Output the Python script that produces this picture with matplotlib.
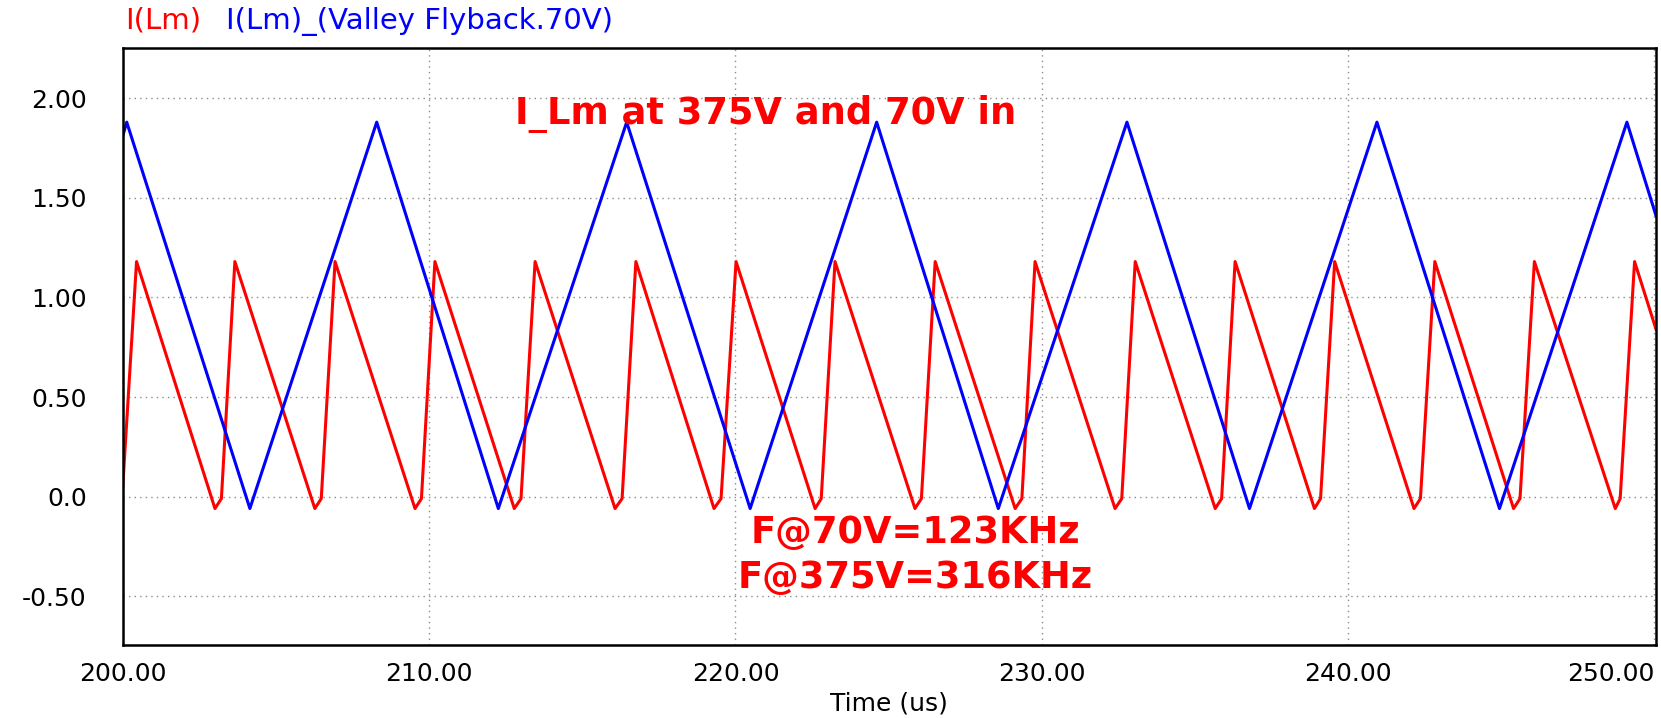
import matplotlib
matplotlib.use("Agg")
import matplotlib.pyplot as plt

# red trace: I(Lm) at 375V in, vertices (us, A)
red_t = [200.00, 200.45,
         203.01, 203.22, 203.66,
         206.27, 206.48, 206.93,
         209.54, 209.75, 210.19,
         212.78, 213.00, 213.46,
         216.07, 216.30, 216.75,
         219.30, 219.53, 220.02,
         222.60, 222.80, 223.25,
         225.86, 226.07, 226.52,
         229.13, 229.35, 229.78,
         232.39, 232.61, 233.05,
         235.66, 235.87, 236.31,
         238.90, 239.10, 239.56,
         242.15, 242.36, 242.83,
         245.40, 245.61, 246.08,
         248.72, 248.88, 249.35,
         250.05]
red_i = [0.05, 1.18,
         -0.06, -0.01, 1.18,
         -0.06, -0.01, 1.18,
         -0.06, -0.01, 1.18,
         -0.06, -0.01, 1.18,
         -0.06, -0.01, 1.18,
         -0.06, -0.01, 1.18,
         -0.06, -0.01, 1.18,
         -0.06, -0.01, 1.18,
         -0.06, -0.01, 1.18,
         -0.06, -0.01, 1.18,
         -0.06, -0.01, 1.18,
         -0.06, -0.01, 1.18,
         -0.06, -0.01, 1.18,
         -0.06, -0.01, 1.18,
         -0.06, -0.01, 1.18,
         0.84]

# blue trace: I(Lm) of the valley flyback at 70V in
blue_t = [200.00, 200.13, 204.15, 208.29, 212.26, 216.45, 220.48, 224.61,
          228.58, 232.78, 236.78, 240.94, 244.94, 249.10, 250.05]
blue_i = [1.81, 1.88, -0.06, 1.88, -0.06, 1.88, -0.06, 1.88,
          -0.06, 1.88, -0.06, 1.88, -0.06, 1.88, 1.41]

x_ticks = [200, 210, 220, 230, 240, 250]
x_labels = ["200.00", "210.00", "220.00", "230.00", "240.00", "250.00"]
y_ticks = [2.0, 1.5, 1.0, 0.5, 0.0, -0.5]
y_labels = ["2.00", "1.50", "1.00", "0.50", "0.0", "-0.50"]

fig = plt.figure(figsize=(16.61, 7.18), dpi=100)
ax = fig.add_axes([0.0739, 0.1017, 0.9231, 0.8311])

ax.plot(red_t, red_i, color="#ff0000", lw=2.2)
ax.plot(blue_t, blue_i, color="#0000ff", lw=2.2)

ax.set_xlim(200, 250.05)
ax.set_ylim(-0.745, 2.251)

ax.set_xticks(x_ticks)
ax.set_xticklabels(x_labels)
ax.set_yticks(y_ticks)
ax.set_yticklabels(y_labels)
ax.get_xticklabels()[-1].set_ha("right")

ax.tick_params(axis="both", length=0, labelsize=18)
ax.tick_params(axis="y", pad=26)
ax.tick_params(axis="x", pad=12)
ax.grid(True, color="#8c8c8c", linestyle=(0, (1, 3)), lw=1)
for s in ax.spines.values():
    s.set_linewidth(1.8)
    s.set_color("black")

ax.set_xlabel("Time (us)", fontsize=18, labelpad=4)

# annotations
ax.text(220.97, 1.92, "I_Lm at 375V and 70V in", color="#ff0000",
        fontsize=26.5, fontweight="bold", ha="center", va="center")
ax.text(225.89, -0.182, "F@70V=123KHz", color="#ff0000",
        fontsize=26.5, fontweight="bold", ha="center", va="center")
ax.text(225.86, -0.408, "F@375V=316KHz", color="#ff0000",
        fontsize=26.5, fontweight="bold", ha="center", va="center")

# trace names above the plot
fig.text(125 / 1661, 1 - 21 / 718, "I(Lm)", color="#ff0000",
         fontsize=21, ha="left", va="center")
fig.text(226 / 1661, 1 - 21 / 718, "I(Lm)_(Valley Flyback.70V)",
         color="#0000ff", fontsize=21, ha="left", va="center")

fig.savefig("out.png", dpi=100)
